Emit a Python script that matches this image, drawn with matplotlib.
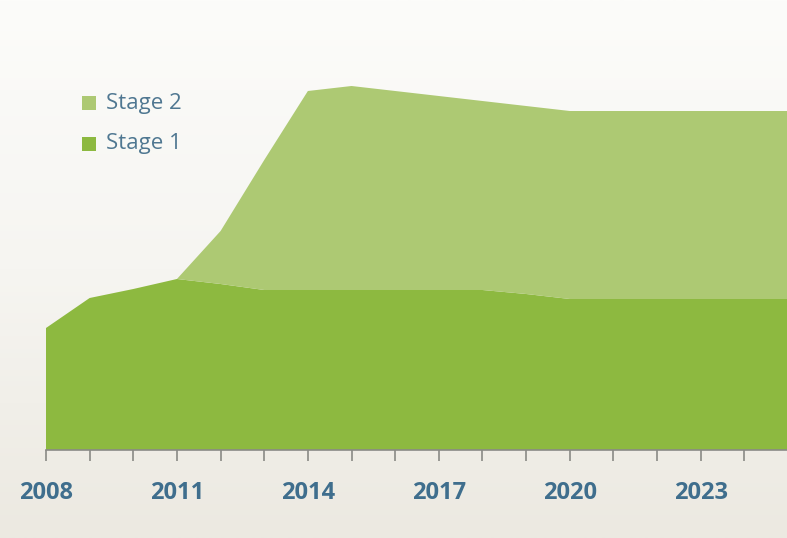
import numpy as np
import matplotlib
matplotlib.use("Agg")
import matplotlib.pyplot as plt
from matplotlib.colors import LinearSegmentedColormap
from matplotlib.patches import Rectangle

# --- data -------------------------------------------------------------
years = list(range(2008, 2026))
stage1 = [122, 152, 161, 171, 166, 160, 160, 160, 160, 160, 160, 156, 151, 151, 151, 151, 151, 151]
stage2 = [0, 0, 0, 0, 53, 130, 199, 204, 199, 194, 189, 188, 188, 188, 188, 188, 188, 188]
tick_years = [2008, 2011, 2014, 2017, 2020, 2023]
series_names = ["Stage 1", "Stage 2"]

# --- style ------------------------------------------------------------
c_stage1 = "#8db940"
c_stage2 = "#adc973"
c_year = "#3f6e8d"
c_legend = "#4f7791"
c_tick = "#8a8a86"

W, H = 787, 538
fig = plt.figure(figsize=(W / 100, H / 100), dpi=100)

# soft vertical background gradient
bg = fig.add_axes([0, 0, 1, 1], zorder=-10)
grad = np.linspace(0, 1, 256).reshape(-1, 1)
cmap = LinearSegmentedColormap.from_list("bg", ["#fcfcfa", "#f6f5f1", "#ece9e1"])
bg.imshow(grad, aspect="auto", cmap=cmap, extent=[0, 1, 0, 1], origin="upper")
bg.set_axis_off()

# plotting area: baseline at y=450px, 2008 at x=46px, 2025 at the right edge
x0, base = 46, 450
ax = fig.add_axes([x0 / W, (H - base) / H, (788 - x0) / W, base / H])
ax.set_facecolor("none")
ax.stackplot(years, stage1, stage2, colors=[c_stage1, c_stage2],
             linewidth=0, antialiased=True)
ax.set_xlim(2008, 2025)
ax.set_ylim(0, 450)

for s in ["top", "right", "left"]:
    ax.spines[s].set_visible(False)
ax.spines["bottom"].set_color(c_tick)
ax.spines["bottom"].set_linewidth(1.2)
ax.set_yticks([])
ax.set_xticks(years, minor=False)
ax.set_xticklabels([str(y) if y in tick_years else "" for y in years])
ax.tick_params(axis="x", direction="out", length=8, width=1.2, color=c_tick,
               pad=14, labelsize=17, labelcolor=c_year)
for lab in ax.get_xticklabels():
    lab.set_fontfamily("Open Sans")
    lab.set_fontweight("bold")

# legend: small squares with labels
leg_items = [("Stage 2", c_stage2, 103), ("Stage 1", c_stage1, 144)]
for name, col, yc in leg_items:
    fig.patches.append(Rectangle((82 / W, (H - yc - 7) / H), 14 / W, 14 / H,
                                 transform=fig.transFigure, facecolor=col,
                                 edgecolor="none"))
    fig.text(106 / W, (H - yc) / H, name, ha="left", va="center",
             fontsize=16, color=c_legend, family="Open Sans")

fig.savefig("out.png", dpi=100)
